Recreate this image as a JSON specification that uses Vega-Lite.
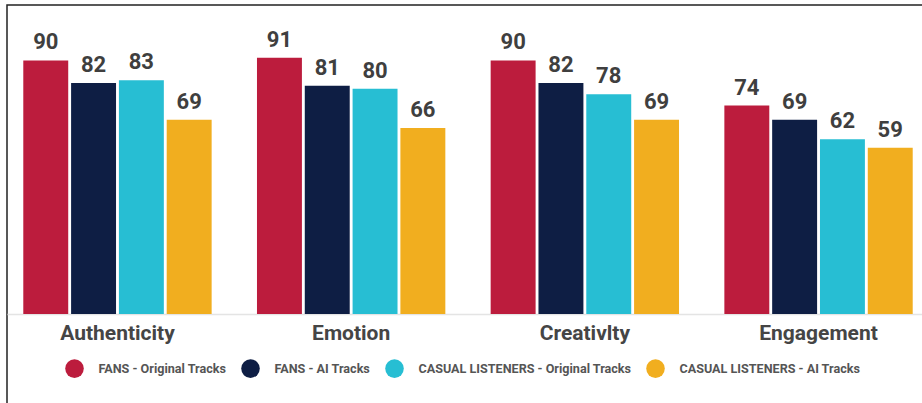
{
  "$schema": "https://vega.github.io/schema/vega-lite/v6.json",
  "width": 922,
  "height": 400,
  "autosize": {"type": "none"},
  "padding": {"left": 7, "top": 5, "right": 0, "bottom": 0},
  "background": "white",
  "config": {"view": {"stroke": "#222222", "strokeWidth": 1.5}, "font": "Roboto"},
  "data": {"values": [
    {"category": "Authenticity", "series": "FANS - Original Tracks", "value": 90},
    {"category": "Authenticity", "series": "FANS - AI Tracks", "value": 82},
    {"category": "Authenticity", "series": "CASUAL LISTENERS - Original Tracks", "value": 83},
    {"category": "Authenticity", "series": "CASUAL LISTENERS - AI Tracks", "value": 69},
    {"category": "Emotion", "series": "FANS - Original Tracks", "value": 91},
    {"category": "Emotion", "series": "FANS - AI Tracks", "value": 81},
    {"category": "Emotion", "series": "CASUAL LISTENERS - Original Tracks", "value": 80},
    {"category": "Emotion", "series": "CASUAL LISTENERS - AI Tracks", "value": 66},
    {"category": "Creativlty", "series": "FANS - Original Tracks", "value": 90},
    {"category": "Creativlty", "series": "FANS - AI Tracks", "value": 82},
    {"category": "Creativlty", "series": "CASUAL LISTENERS - Original Tracks", "value": 78},
    {"category": "Creativlty", "series": "CASUAL LISTENERS - AI Tracks", "value": 69},
    {"category": "Engagement", "series": "FANS - Original Tracks", "value": 74},
    {"category": "Engagement", "series": "FANS - AI Tracks", "value": 69},
    {"category": "Engagement", "series": "CASUAL LISTENERS - Original Tracks", "value": 62},
    {"category": "Engagement", "series": "CASUAL LISTENERS - AI Tracks", "value": 59}
  ]},
  "encoding": {
    "x": {
      "field": "category", "type": "nominal",
      "sort": ["Authenticity", "Emotion", "Creativlty", "Engagement"],
      "scale": {"paddingInner": 0.194, "paddingOuter": 0.0697},
      "axis": {"title": null, "offset": -91, "labelAngle": 0, "labelFont": "Roboto", "labelFontWeight": "bold", "labelFontSize": 21, "labelColor": "#454545", "labelPadding": 8, "ticks": false, "domainColor": "#e4e4e4", "domainWidth": 1.5, "grid": false}
    },
    "xOffset": {
      "field": "series", "type": "nominal",
      "sort": ["FANS - Original Tracks", "FANS - AI Tracks", "CASUAL LISTENERS - Original Tracks", "CASUAL LISTENERS - AI Tracks"],
      "scale": {"paddingInner": 0.06, "paddingOuter": 0}
    },
    "y": {"field": "value", "type": "quantitative", "scale": {"domain": [-32.3, 109.7], "nice": false}, "axis": null}
  },
  "layer": [
    {
      "mark": {"type": "bar"},
      "encoding": {
        "color": {
          "field": "series", "type": "nominal",
          "sort": ["FANS - Original Tracks", "FANS - AI Tracks", "CASUAL LISTENERS - Original Tracks", "CASUAL LISTENERS - AI Tracks"],
          "scale": {"range": ["#BC1C3D", "#0E1E44", "#27BED3", "#F1AE1F"]},
          "legend": {"orient": "none", "legendX": 58, "legendY": 354, "direction": "horizontal", "title": null, "symbolType": "circle", "symbolSize": 346, "symbolStrokeWidth": 0, "symbolOpacity": 1, "labelFont": "Roboto", "labelFontWeight": "bold", "labelFontSize": 12.6, "labelColor": "#555555", "labelOffset": 14.5, "columnPadding": 14, "padding": 0, "labelLimit": 400}
        }
      }
    },
    {
      "mark": {"type": "text", "baseline": "bottom", "dy": -6, "font": "Roboto", "fontWeight": "bold", "fontSize": 22, "color": "#3f3f3f"},
      "encoding": {"text": {"field": "value", "type": "quantitative"}}
    }
  ]
}
